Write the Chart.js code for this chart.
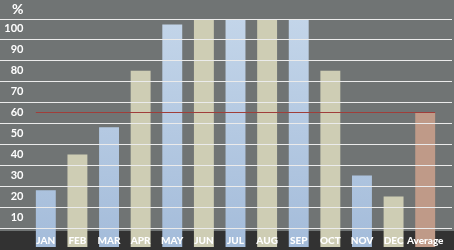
<!DOCTYPE html>
<html>
<head>
<meta charset="utf-8">
<script src="https://cdn.jsdelivr.net/npm/chart.js@4.4.1/dist/chart.umd.min.js"></script>
<style>
  html, body { margin: 0; padding: 0; background: #707474; }
  #wrap { width: 454px; height: 250px; position: relative; }
</style>
</head>
<body>
<div id="wrap"><canvas id="chart"></canvas></div>
<script>
// monthly share (%), last bar is the yearly average
const months = ['JAN', 'FEB', 'MAR', 'APR', 'MAY', 'JUN', 'JUL', 'AUG', 'SEP', 'OCT', 'NOV', 'DEC', 'Average'];
const percentValues = [23, 40, 53, 80, 102, 105, 105, 105, 105, 80, 30, 20, 60];
const averageValue = 60;

// y labels sit between the grid lines, '%' is the top one
const yTickValues = [0, 10, 20, 30, 40, 50, 60, 70, 80, 90, 100, 109];
const yTickLabels = ['', '10', '20', '30', '40', '50', '60', '70', '80', '90', '100', '%'];
const yMin = -4;
const yMax = 104.6;

const BG = '#707474';
const BAND = '#323232';
const GRID = '#ebebeb';
const FONT = 'Lato, "Open Sans", sans-serif';

// force axis box sizes so the plot area lands where the picture has it
const fitTo = (w, h) => (s) => {
  if (w != null) s.width = w;
  if (h != null) s.height = h;
  s.paddingTop = s.paddingBottom = s.paddingLeft = s.paddingRight = 0;
};
const setTicks = (s) => { s.ticks = yTickValues.map(v => ({ value: v })); };

const barColor = (ctx) => {
  const i = ctx.dataIndex;
  if (i === months.length - 1) return '#bf9a88';
  if (i % 2 === 1) return '#cecdb4';
  const area = ctx.chart.chartArea;
  if (!area) return '#b6cae2';
  const g = ctx.chart.ctx.createLinearGradient(0, area.top, 0, area.bottom);
  g.addColorStop(0, '#c3d5e9');
  g.addColorStop(1, '#a4bcda');
  return g;
};

const backdrop = {
  id: 'backdrop',
  beforeDraw(chart) {
    const { ctx, width, height, chartArea } = chart;
    ctx.save();
    ctx.fillStyle = BG;
    ctx.fillRect(0, 0, width, height);
    ctx.fillStyle = BAND;
    ctx.fillRect(0, chartArea.bottom - 16, width, height);
    ctx.restore();
  }
};

// red average line from the first bar's left edge to the last bar's right edge
const averageLine = {
  id: 'averageLine',
  afterDatasetsDraw(chart) {
    const bars = chart.getDatasetMeta(0).data;
    if (!bars.length) return;
    const first = bars[0], last = bars[bars.length - 1];
    const y = chart.scales.y.getPixelForValue(averageValue);
    const ctx = chart.ctx;
    ctx.save();
    ctx.strokeStyle = '#a03e3a';
    ctx.lineWidth = 1;
    ctx.beginPath();
    ctx.moveTo(first.x - first.width / 2, Math.round(y) - 0.5);
    ctx.lineTo(last.x + last.width / 2, Math.round(y) - 0.5);
    ctx.stroke();
    ctx.restore();
  }
};

const yGrid = { offset: true, color: GRID, lineWidth: 1, z: 1, drawTicks: true };

new Chart(document.getElementById('chart'), {
  type: 'bar',
  data: {
    labels: months,
    datasets: [{
      data: percentValues,
      base: yMin,
      backgroundColor: barColor,
      borderWidth: 0,
      categoryPercentage: 1,
      barPercentage: 0.63
    }]
  },
  options: {
    responsive: true,
    maintainAspectRatio: false,
    animation: false,
    layout: { padding: { top: 19, left: 0, right: 0, bottom: 0 } },
    plugins: {
      legend: { display: false },
      tooltip: { enabled: false }
    },
    scales: {
      x: {
        grid: { display: false, drawTicks: false },
        border: { display: false },
        afterFit: fitTo(null, 3),
        ticks: {
          z: 1,
          mirror: true,
          padding: 0,
          color: '#ffffff',
          autoSkip: false,
          maxRotation: 0,
          font: { family: FONT, size: 10, weight: '900' }
        }
      },
      y: {
        min: yMin,
        max: yMax,
        afterBuildTicks: setTicks,
        afterFit: fitTo(30, null),
        grid: Object.assign({}, yGrid, { tickLength: 30 }),
        border: { display: false },
        ticks: {
          z: 1,
          padding: -23.5,
          autoSkip: false,
          color: '#ffffff',
          callback: (v, i) => yTickLabels[i],
          font: (c) => ({ family: FONT, weight: 'bold', size: c.index === yTickValues.length - 1 ? 14 : 11 })
        }
      },
      y2: {
        position: 'right',
        min: yMin,
        max: yMax,
        afterBuildTicks: setTicks,
        afterFit: fitTo(13, null),
        grid: Object.assign({}, yGrid, { tickLength: 11, drawOnChartArea: false }),
        border: { display: false },
        ticks: { display: false }
      }
    }
  },
  plugins: [backdrop, averageLine]
});
</script>
</body>
</html>
